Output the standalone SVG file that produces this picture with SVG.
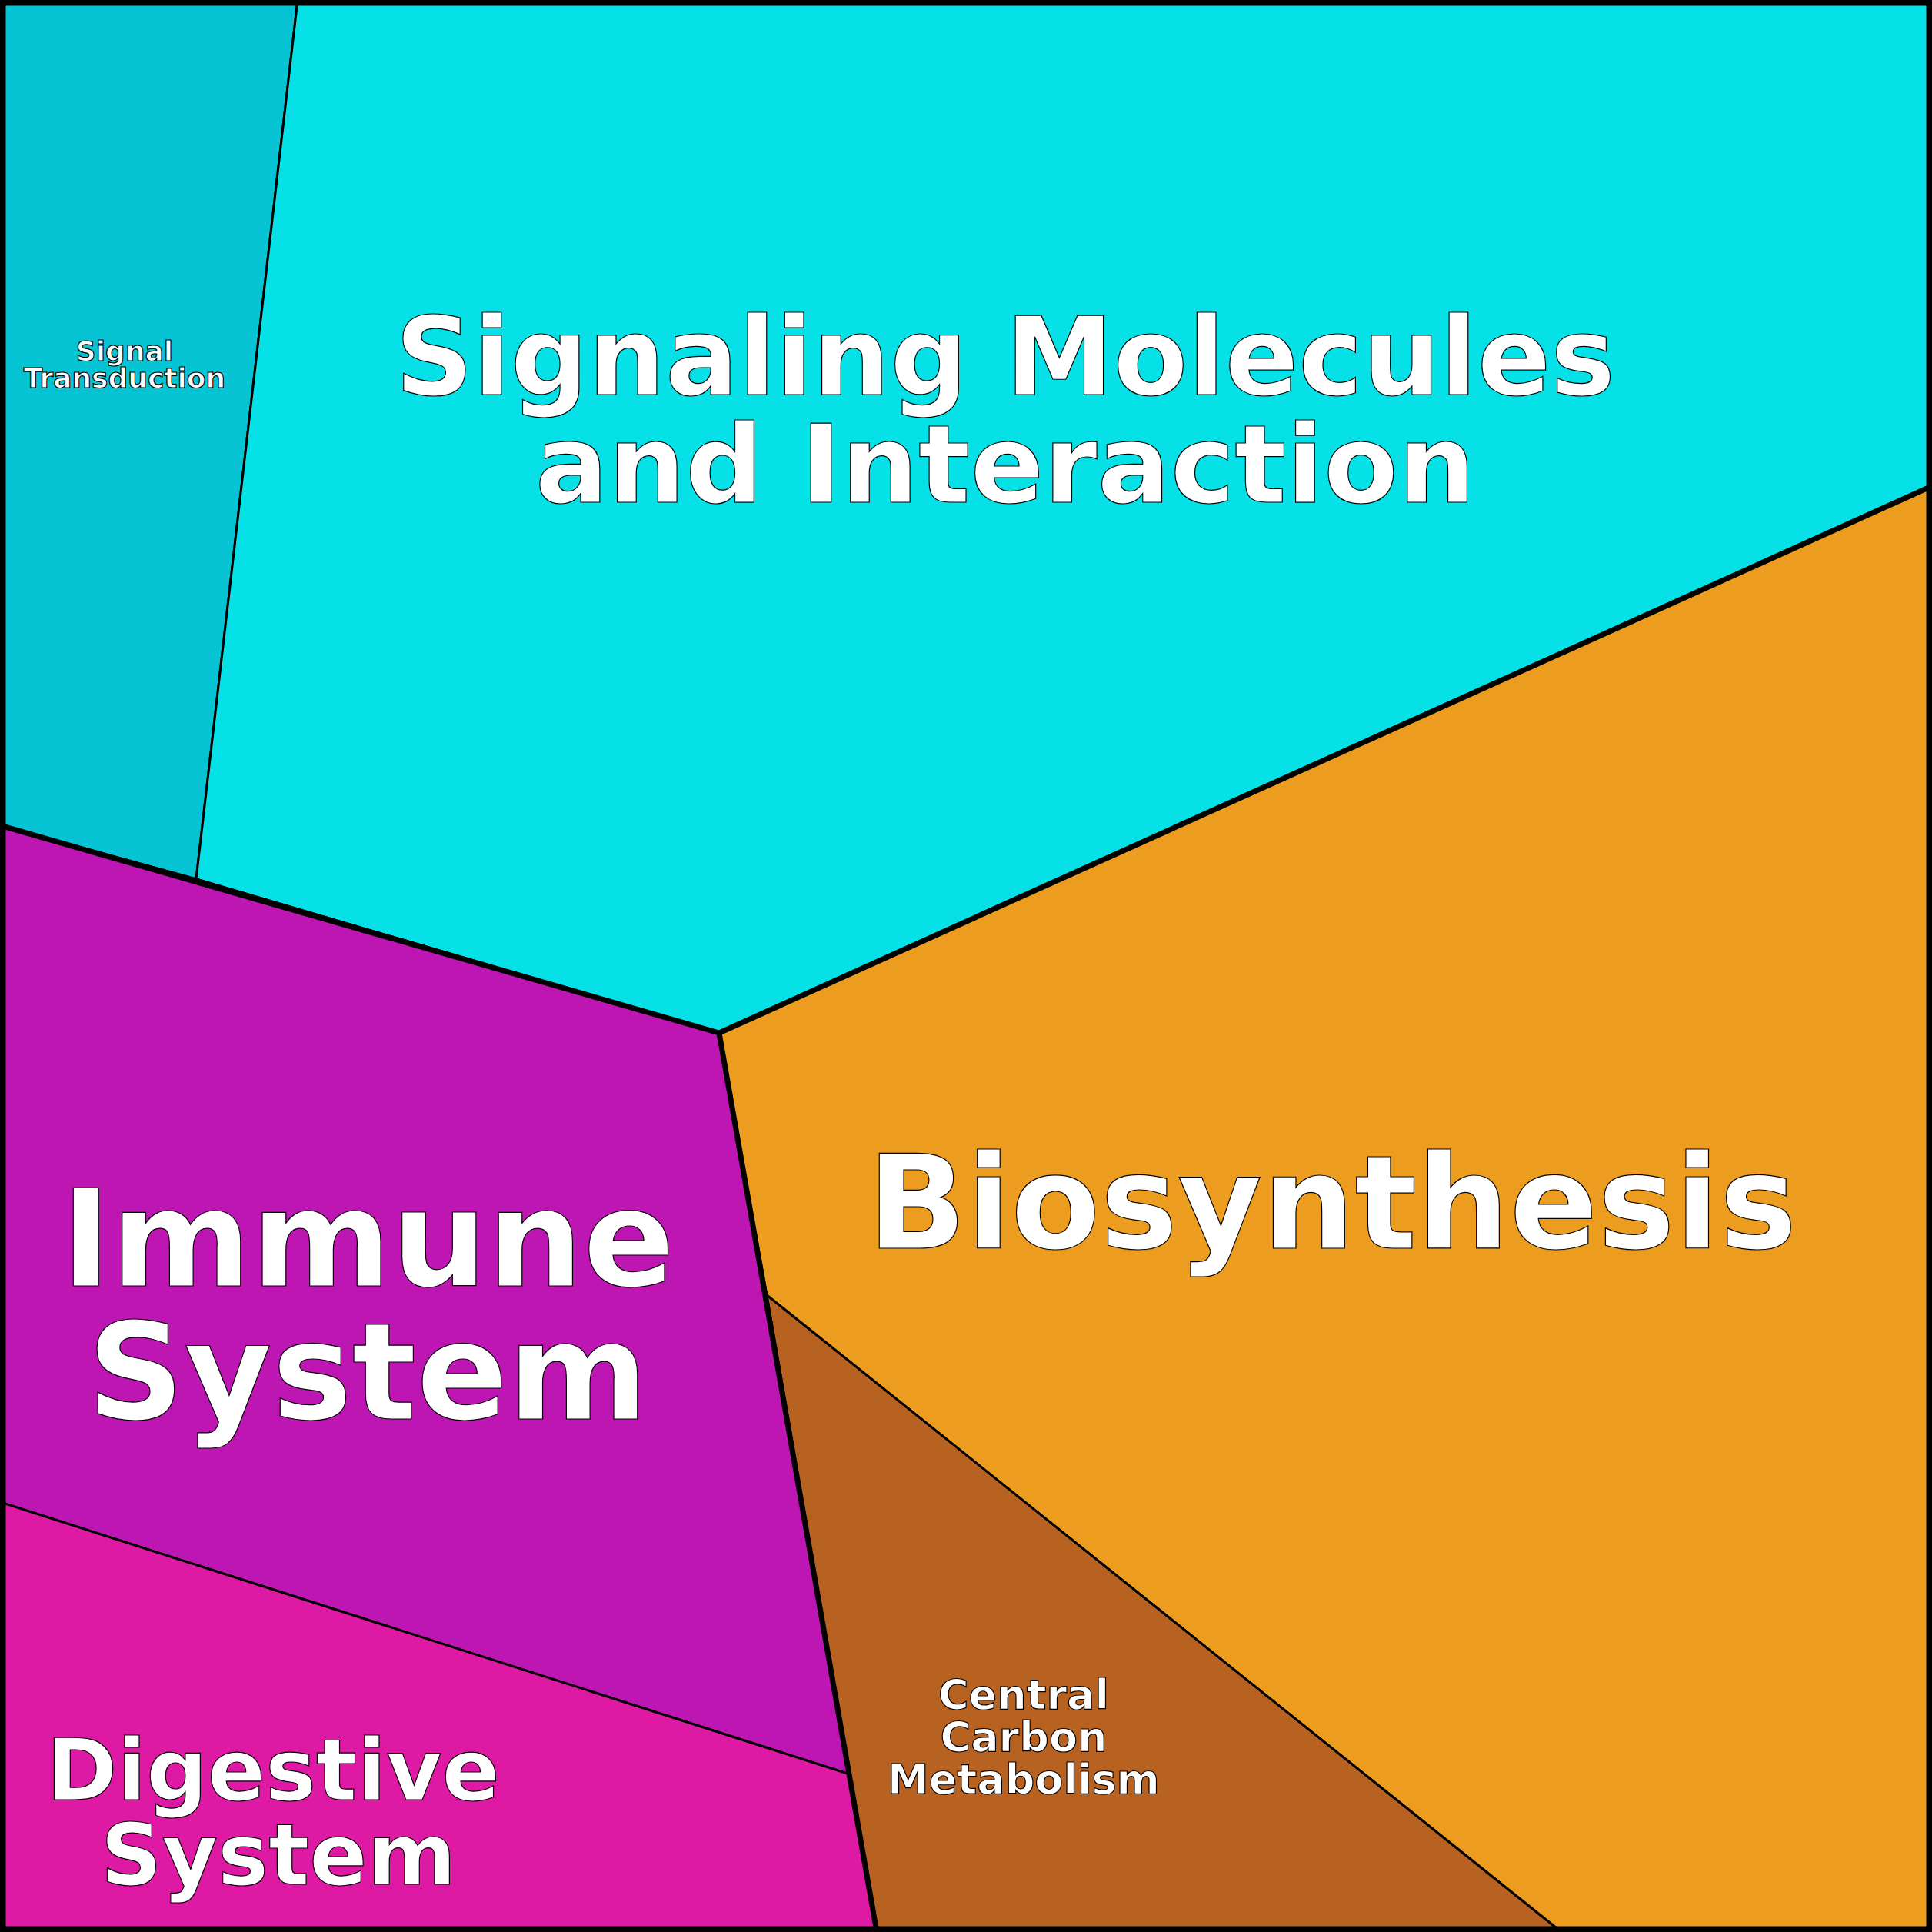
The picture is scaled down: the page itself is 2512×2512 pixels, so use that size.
<svg xmlns="http://www.w3.org/2000/svg" width="2512" height="2512" viewBox="0 0 2512 2512">
<style>
.c{stroke:#000;stroke-width:3;stroke-linejoin:round}
.t{font-family:"DejaVu Sans",sans-serif;font-weight:bold;fill:#fff;stroke:#000;stroke-width:1.2;text-anchor:middle}
.b{fill:none;stroke:#000;stroke-width:7;stroke-linejoin:round}
</style>
<g id="signal-transduction"><polygon class="c" fill="#07c4d4" points="0,0 387,0 255,1143 0,1073"/><text class="t" font-size="36" x="162" y="469">Signal</text><text class="t" font-size="36" x="162" y="504">Transduction</text></g>
<g id="signaling-molecules"><polygon class="c" fill="#06e1e8" points="387,0 2512,0 2512,632 935,1343 255,1143"/><text class="t" font-size="141" x="1307" y="513">Signaling Molecules</text><text class="t" font-size="141" x="1307" y="653">and Interaction</text></g>
<g id="biosynthesis"><polygon class="c" fill="#ec9c1e" points="935,1343 2512,632 2512,2512 2030,2512 997,1684"/><text class="t" font-size="169" x="1732" y="1623">Biosynthesis</text></g>
<g id="central-carbon"><polygon class="c" fill="#b86222" points="997,1684 2030,2512 1140,2512"/><text class="t" font-size="54" x="1331" y="2222">Central</text><text class="t" font-size="54" x="1331" y="2277">Carbon</text><text class="t" font-size="54" x="1331" y="2332">Metabolism</text></g>
<g id="immune-system"><polygon class="c" fill="#bd16b2" points="0,1073 255,1143 935,1343 1105,2307 0,1953"/><text class="t" font-size="175" x="478" y="1672">Immune</text><text class="t" font-size="175" x="478" y="1845">System</text></g>
<g id="digestive-system"><polygon class="c" fill="#de1aa5" points="0,1953 1105,2307 1140,2512 0,2512"/><text class="t" font-size="111" x="355" y="2340">Digestive</text><text class="t" font-size="111" x="362" y="2450">System</text></g>
<g id="connectors"><polyline class="b" points="0,1073 935,1343 2512,632"/><polyline class="b" points="935,1343 1140,2512"/><rect class="b" x="4" y="4" width="2504" height="2504" stroke-width="9"/></g>
</svg>
